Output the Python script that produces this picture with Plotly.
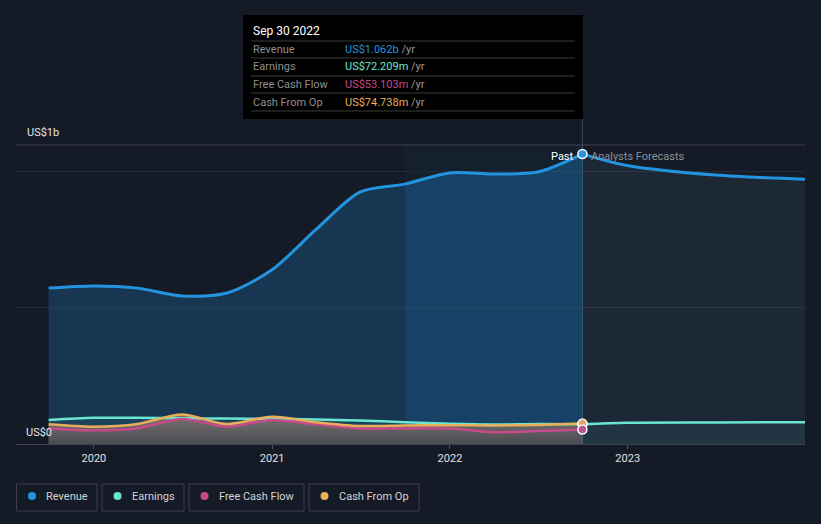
import plotly.graph_objects as go

# ---------------- data ----------------
past_dates = ["2019-09-30", "2019-12-31", "2020-03-31", "2020-06-30", "2020-09-30",
              "2020-12-31", "2021-03-31", "2021-06-30", "2021-09-30", "2021-12-31",
              "2022-03-31", "2022-06-30", "2022-09-30"]
revenue_past = [0.571e9, 0.579e9, 0.571e9, 0.542e9, 0.553e9, 0.637e9, 0.784e9,
                0.923e9, 0.952e9, 0.993e9, 0.989e9, 0.996e9, 1.062e9]
earnings_past = [88e6, 96e6, 96e6, 94e6, 93e6, 92e6, 90e6, 86e6, 80e6, 74e6, 71e6, 73e6, 72.209e6]
fcf_past = [57e6, 50e6, 58e6, 92e6, 64e6, 88e6, 72e6, 57e6, 57e6, 57e6, 43e6, 48e6, 53.103e6]
cfo_past = [72e6, 63e6, 73e6, 108e6, 73e6, 100e6, 80e6, 66e6, 68e6, 69e6, 68e6, 70e6, 74.738e6]

forecast_dates = ["2022-09-30", "2022-12-31", "2023-06-30", "2023-12-31"]
revenue_forecast = [1.062e9, 1.02e9, 0.985e9, 0.97e9]
earnings_forecast = [72.209e6, 78e6, 79e6, 80e6]

highlight_start = "2021-09-30"
highlight_end = "2022-09-30"

series_names = ["Revenue", "Earnings", "Free Cash Flow", "Cash From Op"]
series_colors = ["#2394df", "#6ae6d3", "#c74b8b", "#e8ae5a"]
tooltip_title = "Sep 30 2022"
tooltip_values = ["US$1.062b", "US$72.209m", "US$53.103m", "US$74.738m"]

year_ticks = ["2020-01-01", "2021-01-01", "2022-01-01", "2023-01-01"]
year_labels = ["2020", "2021", "2022", "2023"]
y_labels = ["US$1b", "US$0"]

# ---------------- layout helpers ----------------
W, H = 821, 524
L, R, T, B = 16, 16, 145, 80
PW, PH = W - L - R, H - T - B


def px(x):
    return (x - L) / PW


def py(y):
    return (H - B - y) / PH


BG = "#151b26"
FONT = "Roboto"

fig = go.Figure()

# revenue past fill + line
fig.add_trace(go.Scatter(x=past_dates, y=revenue_past, mode="lines",
                         line=dict(color=series_colors[0], width=3, shape="spline", smoothing=0.8),
                         fill="tozeroy", fillcolor="rgba(33,150,243,0.22)", hoverinfo="skip"))
# highlight region (last 12 months) extra fill
hi_idx = [i for i, d in enumerate(past_dates) if highlight_start <= d <= highlight_end]
fig.add_trace(go.Scatter(x=[past_dates[i] for i in hi_idx], y=[revenue_past[i] for i in hi_idx],
                         mode="lines", line=dict(width=0, shape="spline", smoothing=0.8),
                         fill="tozeroy", fillcolor="rgba(33,150,243,0.09)", hoverinfo="skip"))
# revenue forecast
fig.add_trace(go.Scatter(x=forecast_dates, y=revenue_forecast, mode="lines",
                         line=dict(color=series_colors[0], width=3, shape="spline", smoothing=0.8),
                         fill="tozeroy", fillcolor="rgba(110,160,210,0.10)", hoverinfo="skip"))
# earnings forecast
fig.add_trace(go.Scatter(x=forecast_dates, y=earnings_forecast, mode="lines",
                         line=dict(color=series_colors[1], width=2.5, shape="spline", smoothing=0.8),
                         fill="tozeroy", fillcolor="rgba(94,230,208,0.07)", hoverinfo="skip"))
# earnings past fill
fig.add_trace(go.Scatter(x=past_dates, y=earnings_past, mode="lines",
                         line=dict(width=0, shape="spline", smoothing=0.8),
                         fill="tozeroy", fillcolor="rgba(94,230,208,0.08)", hoverinfo="skip"))
# grey cash fill
fig.add_trace(go.Scatter(x=past_dates, y=cfo_past, mode="lines",
                         line=dict(width=0, shape="spline", smoothing=0.8),
                         fill="tozeroy",
                         fillgradient=dict(type="vertical", start=0, stop=max(cfo_past),
                                           colorscale=[[0, "rgba(78,76,80,0.92)"],
                                                       [1, "rgba(130,120,114,0.92)"]]),
                         hoverinfo="skip"))
# lines
fig.add_trace(go.Scatter(x=past_dates, y=earnings_past, mode="lines",
                         line=dict(color=series_colors[1], width=2.5, shape="spline", smoothing=0.8),
                         hoverinfo="skip"))
fig.add_trace(go.Scatter(x=past_dates, y=fcf_past, mode="lines",
                         line=dict(color=series_colors[2], width=2.5, shape="spline", smoothing=0.8),
                         hoverinfo="skip"))
fig.add_trace(go.Scatter(x=past_dates, y=cfo_past, mode="lines",
                         line=dict(color=series_colors[3], width=2.5, shape="spline", smoothing=0.8),
                         hoverinfo="skip"))
# end markers
end_vals = [revenue_past[-1], earnings_past[-1], cfo_past[-1], fcf_past[-1]]
end_cols = [series_colors[0], series_colors[1], series_colors[3], series_colors[2]]
for v, c in zip(end_vals, end_cols):
    fig.add_trace(go.Scatter(x=[past_dates[-1]], y=[v], mode="markers",
                             marker=dict(color=c, size=9, line=dict(color="white", width=1.5)),
                             hoverinfo="skip"))

shapes = []
# highlight band
shapes.append(dict(type="rect", xref="x", yref="paper", x0=highlight_start, x1=highlight_end,
                   y0=0, y1=1, fillcolor="rgba(40,120,190,0.06)", line=dict(width=0), layer="below"))
# top line
shapes.append(dict(type="line", xref="paper", yref="paper", x0=0, x1=1, y0=1, y1=1,
                   line=dict(color="#3f434c", width=1)))
# crosshair
shapes.append(dict(type="line", xref="x", yref="paper", x0=past_dates[-1], x1=past_dates[-1],
                   y0=0, y1=py(119), line=dict(color="rgba(120,160,200,0.35)", width=1)))
# tooltip
shapes.append(dict(type="rect", xref="paper", yref="paper", x0=px(243), x1=px(583),
                   y0=py(119), y1=py(15), fillcolor="#000000", line=dict(width=0)))
for ly in [41, 58, 76, 93, 111]:
    shapes.append(dict(type="line", xref="paper", yref="paper", x0=px(251), x1=px(575),
                       y0=py(ly), y1=py(ly), line=dict(color="#3a3a3a", width=1)))

annotations = []
annotations.append(dict(xref="paper", yref="paper", x=px(251), y=py(31), xanchor="left",
                        yanchor="middle", showarrow=False, text=tooltip_title,
                        font=dict(family=FONT, size=12, color="#ffffff")))
row_y = [49.5, 67, 84.5, 102]
for name, val, col, ry in zip(series_names, tooltip_values, series_colors, row_y):
    annotations.append(dict(xref="paper", yref="paper", x=px(251), y=py(ry), xanchor="left",
                            yanchor="middle", showarrow=False, text=name,
                            font=dict(family=FONT, size=11, color="#8e8e8e")))
    annotations.append(dict(xref="paper", yref="paper", x=px(343), y=py(ry), xanchor="left",
                            yanchor="middle", showarrow=False,
                            text=f"<span style='color:{col}'>{val}</span> /yr",
                            font=dict(family=FONT, size=11, color="#9a9a9a")))

# y labels
annotations.append(dict(xref="paper", yref="paper", x=px(25), y=py(132), xanchor="left",
                        yanchor="middle", showarrow=False, text=y_labels[0],
                        font=dict(family=FONT, size=11, color="#e6e6e6")))
annotations.append(dict(xref="paper", yref="paper", x=px(24), y=py(432), xanchor="left",
                        yanchor="middle", showarrow=False, text=y_labels[1],
                        font=dict(family=FONT, size=11, color="#e6e6e6")))
# past / forecast labels
annotations.append(dict(xref="x", yref="paper", x=past_dates[-1], y=py(156), xanchor="right",
                        yanchor="middle", xshift=-6, showarrow=False, text="Past",
                        font=dict(family=FONT, size=11, color="#ffffff")))
annotations.append(dict(xref="x", yref="paper", x=past_dates[-1], y=py(156), xanchor="left",
                        yanchor="middle", xshift=7, showarrow=False, text="Analysts Forecasts",
                        font=dict(family=FONT, size=11, color="#8c9199")))

# custom legend
boxes = [(16.5, 97), (102, 184), (189, 304), (309, 419)]
for (x0, x1), name, col in zip(boxes, series_names, series_colors):
    shapes.append(dict(type="rect", xref="paper", yref="paper", x0=px(x0), x1=px(x1),
                       y0=py(511), y1=py(484), line=dict(color="#3a3f4a", width=1),
                       fillcolor="rgba(0,0,0,0)"))
    cx = x0 + 15.5
    shapes.append(dict(type="circle", xref="paper", yref="paper", x0=px(cx - 4), x1=px(cx + 4),
                       y0=py(500), y1=py(492), fillcolor=col, line=dict(width=0)))
    annotations.append(dict(xref="paper", yref="paper", x=px(x0 + 27.5), y=py(496.5),
                            xanchor="left", yanchor="middle", showarrow=False, text=name,
                            font=dict(family=FONT, size=11, color="#d0d3d8")))

fig.update_layout(
    width=W, height=H,
    margin=dict(l=L, r=R, t=T, b=B),
    paper_bgcolor=BG, plot_bgcolor=BG,
    showlegend=False,
    shapes=shapes, annotations=annotations,
    font=dict(family=FONT, color="#e0e0e0"),
    xaxis=dict(type="date", range=["2019-07-25", "2023-12-31"],
               tickvals=year_ticks, ticktext=year_labels,
               ticks="outside", ticklen=4, tickcolor="#4a4f58",
               showgrid=False, showline=True, linecolor="#3d424b", linewidth=1,
               tickfont=dict(family=FONT, size=11, color="#e0e0e0"), zeroline=False,
               fixedrange=True),
    yaxis=dict(range=[0, PH / 273 * 1e9], tickvals=[0.5e9, 1e9], showticklabels=False,
               showgrid=True, gridcolor="#242a35", gridwidth=1, zeroline=False,
               showline=False, fixedrange=True),
)

fig.write_html("out.html", config={"displayModeBar": False},
               post_script="document.body.style.margin='0';document.body.style.background='%s';" % BG)
